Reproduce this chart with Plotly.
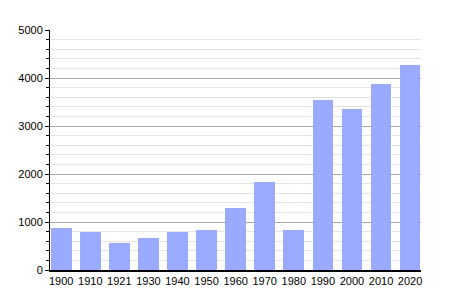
import plotly.graph_objects as go

years = ["1900", "1910", "1921", "1930", "1940", "1950", "1960", "1970", "1980", "1990", "2000", "2010", "2020"]
population = [880, 795, 570, 670, 785, 835, 1295, 1835, 838, 3550, 3360, 3885, 4280]

bar_width = 0.71

fig = go.Figure(go.Bar(
    x=years,
    y=population,
    width=bar_width,
    marker=dict(color="#99aaff", line=dict(width=0)),
))

fig.update_layout(
    width=450, height=300,
    margin=dict(l=50, r=29, t=30, b=30),
    paper_bgcolor="white", plot_bgcolor="white",
    font=dict(family="Liberation Sans, Arial, sans-serif", size=11, color="black"),
    showlegend=False,
    bargap=0,
)
fig.update_xaxes(
    type="category",
    range=[-bar_width / 2 - 0.03, len(years) - 1 + bar_width / 2 + 0.02],
    showgrid=False,
    showline=True, linecolor="black", linewidth=1.5,
    ticks="", tickfont=dict(size=11),
    fixedrange=True,
)
fig.update_yaxes(
    range=[0, 5000],
    dtick=1000,
    showgrid=True, gridcolor="#a8a8a8", gridwidth=1,
    showline=True, linecolor="black", linewidth=1,
    ticks="outside", ticklen=4, tickcolor="black",
    zeroline=False,
    minor=dict(dtick=200, showgrid=True, gridcolor="#e4e4e4", gridwidth=1,
               ticks="outside", ticklen=3, tickcolor="black"),
    tickfont=dict(size=11),
    fixedrange=True,
)

fig.write_html("out.html")
